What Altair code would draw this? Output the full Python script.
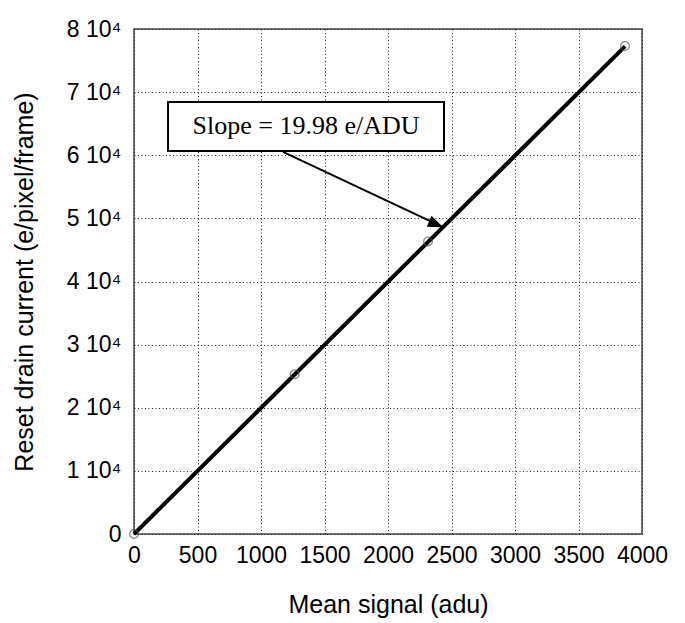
import altair as alt
import pandas as pd

# Measured points: mean signal (adu) vs reset drain current (e/pixel/frame)
mean_signal = [0, 1265, 2315, 3866]
drain_current = [0, 25300, 46350, 77300]

# Fitted slope (e/ADU) and the extent of the fit line
slope = 19.98
fit_x = [0, 3866]

# Annotation anchors in data units
box_x = [268, 2441]
box_y = [60670, 68440]
arrow_from = (1173, 60540)
arrow_to = (2433, 48610)
label_text = "Slope = 19.98 e/ADU"

points = pd.DataFrame({"x": mean_signal, "y": drain_current})
fit = pd.DataFrame({"x": fit_x, "y": [slope * v for v in fit_x]})
box = pd.DataFrame({"x": [box_x[0]], "x2": [box_x[1]], "y": [box_y[0]], "y2": [box_y[1]]})
label = pd.DataFrame({"x": [sum(box_x) / 2], "y": [sum(box_y) / 2], "t": [label_text]})
arrow = pd.DataFrame({"x": [arrow_from[0]], "y": [arrow_from[1]],
                      "x2": [arrow_to[0]], "y2": [arrow_to[1]]})
head = pd.DataFrame({"x": [arrow_to[0]], "y": [arrow_to[1]]})

x_scale = alt.Scale(domain=[0, 4000], nice=False, zero=False)
y_scale = alt.Scale(domain=[0, 80000], nice=False, zero=False)

x_axis = alt.Axis(
    title="Mean signal (adu)",
    values=list(range(0, 4001, 500)),
    format="d",
    labelPadding=10,
    labelOverlap=False,
    labelFlush=False,
    titleY=78,
    titleBaseline="alphabetic",
)
y_axis = alt.Axis(
    title="Reset drain current (e/pixel/frame)",
    values=list(range(0, 80001, 10000)),
    labelExpr="datum.value == 0 ? '0' : format(datum.value / 10000, 'd') + ' 10⁴'",
    labelPadding=13,
    labelOverlap=False,
    labelFlush=False,
    titleX=-97,
    titleBaseline="bottom",
)

base = alt.Chart(points)

fit_line = alt.Chart(fit).mark_line(color="black", strokeWidth=4).encode(
    x=alt.X("x:Q", scale=x_scale, axis=x_axis),
    y=alt.Y("y:Q", scale=y_scale, axis=y_axis),
)

dots = base.mark_point(shape="circle", filled=False, color="#555555",
                       strokeWidth=1.3, size=75).encode(
    x=alt.X("x:Q", scale=x_scale),
    y=alt.Y("y:Q", scale=y_scale),
)

shaft = alt.Chart(arrow).mark_rule(color="black", strokeWidth=2).encode(
    x="x:Q", y="y:Q", x2="x2:Q", y2="y2:Q"
)

arrow_head = alt.Chart(head).mark_point(
    shape="M0,0 L-2,-0.8 L-2,0.8 Z", filled=True, color="black",
    opacity=1, size=225, angle=23,
).encode(x="x:Q", y="y:Q")

label_box = alt.Chart(box).mark_rect(fill="white", stroke="black", strokeWidth=2).encode(
    x="x:Q", x2="x2:Q", y="y:Q", y2="y2:Q"
)

label_mark = alt.Chart(label).mark_text(
    font="Liberation Serif", fontSize=26, color="black", baseline="middle", align="center"
).encode(x="x:Q", y="y:Q", text="t:N")

chart = alt.layer(
    fit_line, dots, shaft, arrow_head, label_box, label_mark
).properties(
    width=508,
    height=505,
    padding={"left": 134, "top": 29, "right": 43, "bottom": 89},
    autosize=alt.AutoSizeParams(type="none"),
    background="white",
).configure_view(
    stroke="#444444", strokeWidth=1.5
).configure_axis(
    grid=True,
    gridColor="#222222",
    gridDash=[1, 2.5],
    gridWidth=1,
    gridOpacity=1,
    domain=False,
    ticks=False,
    labelFont="Liberation Sans",
    labelFontSize=23,
    labelColor="black",
    titleFont="Liberation Sans",
    titleFontSize=25,
    titleFontWeight="normal",
    titleColor="black",
)

chart.save("out.html", embed_options={"renderer": "svg", "actions": False})
